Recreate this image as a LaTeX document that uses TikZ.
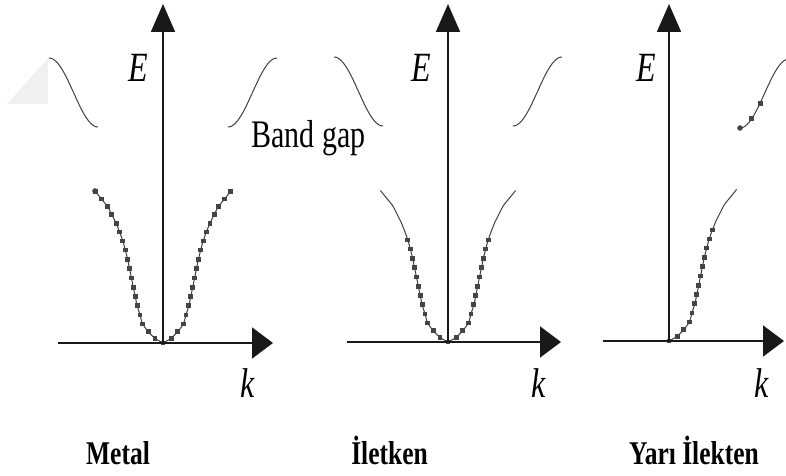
\documentclass[tikz,border=0pt]{standalone}
\usepackage{fontspec}
\setmainfont{Liberation Serif}
\usetikzlibrary{arrows.meta}

\definecolor{curvegray}{HTML}{404040}
\definecolor{dotgray}{HTML}{444444}
\newcommand{\vstretch}[1]{\scalebox{1}[1.3]{#1}}

\tikzset{
    axis/.style={line width=1.8pt, draw=black!90},
    harrow/.style={-{Triangle[length=21pt, width=31pt]}},
    varrow/.style={-{Triangle[length=28pt, width=24pt]}},
    band/.style={line width=1pt, draw=curvegray},
    carrier/.style={fill=dotgray},
    % lower band branch, the first #1 points carry a marker
    lowband/.pic={
        \draw[band] plot[smooth] coordinates {(0,0) (8.1,4.7) (14.8,11.4) (20.3,19.1) (23,28.1) (25.8,37.2)
            (27.8,46.5) (29.7,55.8) (31.6,65.1) (33.5,74.5) (35.4,83.8) (37.7,93) (40.2,102.1) (43.4,111)
            (46.9,119.8) (51.2,128.3) (55.6,136.7) (61.6,144.1) (67.6,151.5)};
        \foreach \px/\py [count=\i] in {0/0, 8.1/4.7, 14.8/11.4, 20.3/19.1, 23/28.1, 25.8/37.2, 27.8/46.5,
            29.7/55.8, 31.6/65.1, 33.5/74.5, 35.4/83.8, 37.7/93, 40.2/102.1, 43.4/111, 46.9/119.8,
            51.2/128.3, 55.6/136.7, 61.6/144.1, 67.6/151.5} {
            \ifnum\i>#1\relax\else
                \fill[carrier] (\px,\py) +(-2.4pt,-2.4pt) rectangle +(2.4pt,2.4pt);
            \fi
        }
    },
    upband/.pic={\draw[band] plot[domain=0:1, samples=40] ({65+49*\x},{216+69*(1-cos(180*\x))/2});},
    axlabel/.style={font=\fontsize{32}{35}\selectfont, anchor=base, inner sep=0pt},
    kind/.style={font=\bfseries\fontsize{25.5}{28}\selectfont, anchor=base, inner sep=0pt},
}

\begin{document}
\begin{tikzpicture}[x=1pt, y=1pt]
    \useasboundingbox (0,0) rectangle (786,475);
    % faint corner mark on the left
    \fill[gray!12] (7,371) -- (48,417) -- (48,371) -- cycle;

    % Origins and axis ends of the three panels
    \foreach \n/\ox/\oy/\kl/\kr in {1/163/132/58/273, 2/448/133/347/561, 3/669/134/603/784} {
        \coordinate (O\n) at (\ox,\oy);
        \coordinate (L\n) at (\kl,\oy);
        \coordinate (R\n) at (\kr,\oy);
        \coordinate (T\n) at (\ox,471);
    }

    % Metal: lower band filled on both sides
    \pic at (O1) {lowband=19};
    \pic[xscale=-1] at (O1) {lowband=19};
    \fill[carrier] ([shift={(-68,152)}]O1) circle (2.8pt);
    \pic at (O1) {upband};
    \pic[xscale=-1] at (O1) {upband};

    % Iletken: lower band partly filled
    \pic at (O2) {lowband=13};
    \pic[xscale=-1] at (O2) {lowband=13};
    \pic at (O2) {upband};
    \pic[xscale=-1] at (O2) {upband};

    % Yari iletken: one branch, a few carriers in the upper band
    \pic at (O3) {lowband=14};
    \pic at ([shift={(6,-3)}]O3) {upband};
    \fill[carrier] ([shift={(71,213)}]O3) circle (2.8pt);
    \foreach \u in {0.24, 0.41}
        \fill[carrier] ([shift={({71+49*\u},{213+69*(1-cos(180*\u))/2})}]O3) +(-2.4pt,-2.4pt) rectangle +(2.4pt,2.4pt);

    % Axes on top
    \foreach \n in {1,2,3} {
        \draw[axis, harrow] (L\n) -- (R\n);
        \draw[axis, varrow] (O\n) -- (T\n);
    }

    % Axis labels
    \node[axlabel] (E1) at (138,393) {\vstretch{\textit{E}}};
    \node[axlabel] (E2) at (421,393) {\vstretch{\textit{E}}};
    \node[axlabel] (E3) at (646,393) {\vstretch{\textit{E}}};
    \node[axlabel] (k1) at (248,78) {\vstretch{\textit{k}}};
    \node[axlabel] (k2) at (539,78) {\vstretch{\textit{k}}};
    \node[axlabel] (k3) at (762,78) {\vstretch{\textit{k}}};
    \node[font=\fontsize{30}{33}\selectfont, anchor=base west, inner sep=0pt] (gap) at (251,328) {\vstretch{Band gap}};

    % Panel names
    \node[kind] (metal) at (118,11) {\vstretch{Metal}};
    \node[kind] (iletken) at (389.5,11) {\vstretch{İletken}};
    \node[kind] (yari) at (694,11) {\vstretch{Yarı İlekten}};
\end{tikzpicture}
\end{document}
